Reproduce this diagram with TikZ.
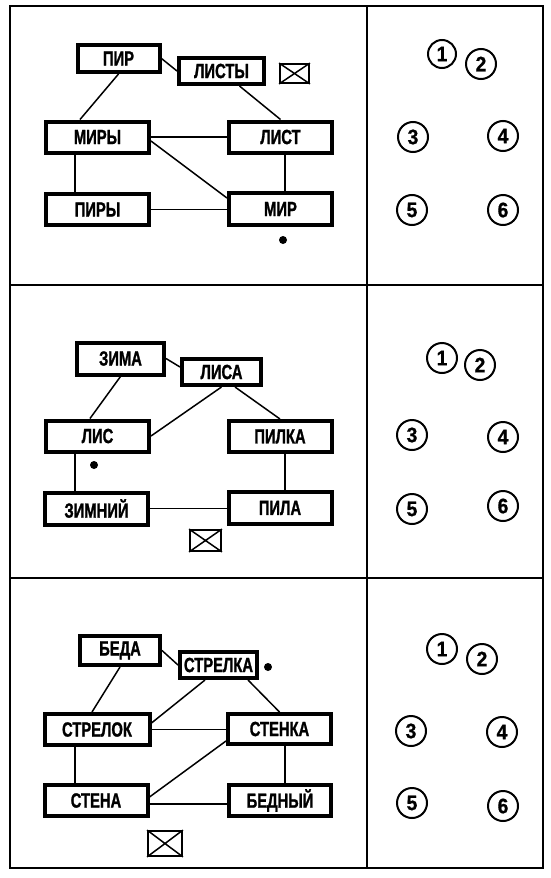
\documentclass[tikz,border=0pt]{standalone}
\usepackage{fontspec}
\newfontfamily\lblfont{Liberation Sans Bold}[FakeStretch=0.72, FakeBold=1.2, Scale=2.05]
\newfontfamily\numfont{Liberation Sans Bold}[FakeStretch=0.92, FakeBold=0.8, Scale=2.1]
\tikzset{
  boxn/.style={draw, line width=4pt, inner sep=0pt, font=\lblfont},
  edge/.style={line width=1.5pt},
  frame/.style={line width=2pt},
  envl/.style={draw, line width=1.8pt, inner sep=0pt},
  dotn/.style={circle, fill, inner sep=0pt, minimum size=8pt},
  num/.style={circle, draw, line width=2pt, inner sep=0pt, minimum size=30pt, font=\numfont},
}
\newcommand{\bx}[5]{\node[boxn, minimum width=#3pt, minimum height=#4pt] (#1) at #2 {#5};}
\begin{document}
\begin{tikzpicture}[x=1pt,y=-1pt]
\useasboundingbox (0,0) rectangle (550,878);
% frame
\draw[frame] (10,6) rectangle (543,868);
\draw[frame] (367,6) -- (367,868);
\draw[frame] (10,285) -- (543,285);
\draw[frame] (10,578) -- (543,578);

% ---------- panel 1
\bx{pir}{(118.5,58.5)}{82}{27}{ПИР}
\bx{listy}{(221.5,71)}{85}{26}{ЛИСТЫ}
\bx{miry}{(97.5,137)}{103}{31}{МИРЫ}
\bx{list}{(280.5,137)}{103}{31}{ЛИСТ}
\bx{piry}{(97.5,209.5)}{103}{31}{ПИРЫ}
\bx{mir}{(280.5,209)}{103}{32}{МИР}
\node[envl, minimum width=29pt, minimum height=19pt] (e1) at (294.5,73.5) {};
\draw[line width=1.5pt] (e1.north west) -- (e1.south east) (e1.south west) -- (e1.north east);
\node[dotn] (d1) at (283,240) {};

\draw[edge] (pir.south) -- ([xshift=-17.5pt]miry.north);
\draw[edge] (pir.east) -- (listy.west);
\draw[edge] ([xshift=18pt]listy.south) -- (list.north);
\draw[edge] (miry.east) -- (list.west);
\draw[edge] ([yshift=-4pt]miry.east) -- ([yshift=11pt]mir.west);
\draw[edge] ([xshift=4.5pt]list.south) -- ([xshift=4.5pt]mir.north);
\draw[edge] ([xshift=-22.5pt]miry.south) -- ([xshift=-22.5pt]piry.north);
\draw[edge] (piry.east) -- (piry.east -| mir.west);

% ---------- panel 2
\bx{zima}{(120.5,358.5)}{87}{32}{ЗИМА}
\bx{lisa}{(221.5,372)}{79}{26}{ЛИСА}
\bx{lis}{(97.5,436)}{103}{31}{ЛИС}
\bx{pilka}{(280,436.5)}{103}{31}{ПИЛКА}
\bx{zimniy}{(96.5,508.5)}{103}{32}{ЗИМНИЙ}
\bx{pila}{(280,508)}{103}{32}{ПИЛА}
\node[envl, minimum width=31pt, minimum height=21pt] (e2) at (205.5,540.5) {};
\draw[line width=1.5pt] (e2.north west) -- (e2.south east) (e2.south west) -- (e2.north east);
\node[dotn] (d2) at (94,465) {};

\draw[edge] (zima.east) -- ([yshift=5pt]lisa.west);
\draw[edge] (zima.south) -- ([xshift=-7.5pt]lis.north);
\draw[edge] (lisa.south) -- (lis.east);
\draw[edge] ([xshift=13.5pt]lisa.south) -- (pilka.north);
\draw[edge] ([xshift=-22.5pt]lis.south) -- ([xshift=-21.5pt]zimniy.north);
\draw[edge] ([xshift=5pt]pilka.south) -- ([xshift=5pt]pila.north);
\draw[edge] (zimniy.east) -- (zimniy.east -| pila.west);

% ---------- panel 3
\bx{beda}{(120,650.5)}{80}{29}{БЕДА}
\bx{strelka}{(218.5,665)}{77}{26}{СТРЕЛКА}
\bx{strelok}{(97,729.5)}{105}{31}{СТРЕЛОК}
\bx{stenka}{(279.5,729)}{103}{30}{СТЕНКА}
\bx{stena}{(96,800.5)}{103}{31}{СТЕНА}
\bx{bedniy}{(280,800.5)}{102}{31}{БЕДНЫЙ}
\node[envl, minimum width=34pt, minimum height=25pt] (e3) at (165,843.5) {};
\draw[line width=1.5pt] (e3.north west) -- (e3.south east) (e3.south west) -- (e3.north east);
\node[dotn] (d3) at (268,667) {};

\draw[edge] (beda.east) -- (strelka.west);
\draw[edge] (beda.south) -- ([xshift=-5pt]strelok.north);
\draw[edge] ([xshift=-13.5pt]strelka.south) -- ([yshift=6.5pt]strelok.east);
\draw[edge] ([xshift=29.5pt]strelka.south) -- (stenka.north);
\draw[edge] (strelok.east) -- (strelok.east -| stenka.west);
\draw[edge] ([yshift=-12pt]stenka.west) -- ([yshift=3.5pt]stena.east);
\draw[edge] ([xshift=-22pt]strelok.south) -- ([xshift=-21pt]stena.north);
\draw[edge] ([xshift=5.5pt]stenka.south) -- ([xshift=5pt]bedniy.north);
\draw[edge] ([yshift=-3.5pt]stena.east) -- ([yshift=-3.5pt]stena.east -| bedniy.west);

% ---------- numbered circles
\node[num, minimum size=28pt] (a1) at (442,54) {1};
\node[num] (a2) at (481,64) {2};
\node[num] (a3) at (413,137) {3};
\node[num] (a4) at (503,136) {4};
\node[num] (a5) at (412,210) {5};
\node[num] (a6) at (503,210) {6};

\node[num] (b1) at (442,358) {1};
\node[num] (b2) at (480,365) {2};
\node[num] (b3) at (412,435) {3};
\node[num] (b4) at (503,437) {4};
\node[num] (b5) at (412,509) {5};
\node[num] (b6) at (503,506) {6};

\node[num] (c1) at (442,649) {1};
\node[num] (c2) at (482,659) {2};
\node[num] (c3) at (411,731) {3};
\node[num] (c4) at (502,732) {4};
\node[num] (c5) at (412,803) {5};
\node[num] (c6) at (503,806) {6};
\end{tikzpicture}
\end{document}
